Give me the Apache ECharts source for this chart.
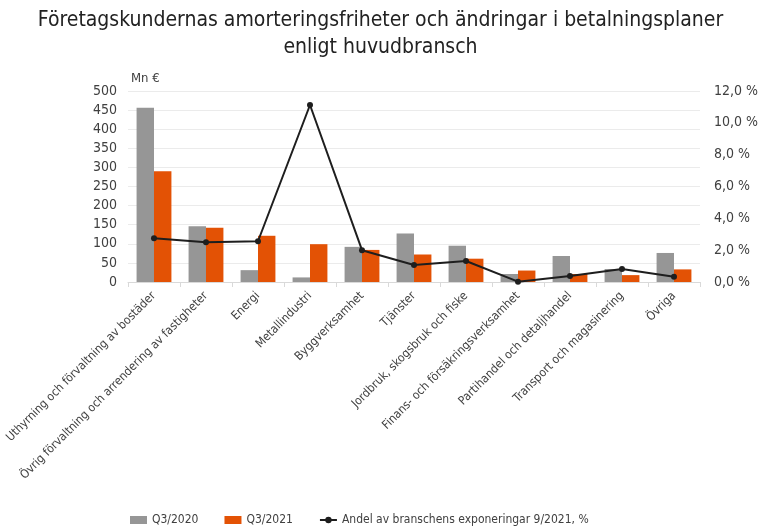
<!DOCTYPE html>
<html>
<head>
<meta charset="utf-8">
<script src="https://cdn.jsdelivr.net/npm/echarts@6/dist/echarts.min.js"></script>
<style>
  html, body { margin: 0; padding: 0; background: #fff; }
  #myChart { width: 761px; height: 529px; }
</style>
</head>
<body>
<div id="myChart"></div>
<script>
// kategorier och värden
const categories = [
  "Uthyrning och förvaltning av bostäder",
  "Övrig förvaltning och arrendering av fastigheter",
  "Energi",
  "Metallindustri",
  "Byggverksamhet",
  "Tjänster",
  "Jordbruk, skogsbruk och fiske",
  "Finans- och försäkringsverksamhet",
  "Partihandel och detaljhandel",
  "Transport och magasinering",
  "Övriga"
];
const q3_2020 = [456, 146, 31, 12, 92, 127, 95, 21, 68, 34, 76];
const q3_2021 = [290, 142, 121, 99, 84, 72, 61, 30, 21, 18, 33];
const andel = [2.75, 2.5, 2.56, 11.12, 2.0, 1.07, 1.32, 0.02, 0.38, 0.82, 0.33];

const font = "'Liberation Sans Narrow', 'DejaVu Sans Condensed', sans-serif";
const textColor = "#404040";

let myChart = echarts.init(document.getElementById("myChart"));
myChart.setOption({
  animation: false,
  textStyle: { fontFamily: font },
  title: {
    text: "Företagskundernas amorteringsfriheter och ändringar i betalningsplaner\nenligt huvudbransch",
    left: "center",
    top: 2,
    textStyle: {
      fontFamily: font,
      fontWeight: "normal",
      fontSize: 21,
      lineHeight: 27,
      color: "#222"
    }
  },
  legend: {
    bottom: -2,
    left: 125,
    itemGap: 26,
    itemWidth: 17,
    itemHeight: 8,
    textStyle: { fontFamily: font, fontSize: 12, color: textColor },
    data: [
      { name: "Q3/2020", icon: "rect" },
      { name: "Q3/2021", icon: "rect" },
      { name: "Andel av branschens exponeringar 9/2021, %" }
    ]
  },
  grid: { left: 128, right: 56, top: 91, bottom: 247 },
  xAxis: {
    type: "category",
    data: categories,
    axisLine: { lineStyle: { color: "#d9d9d9" } },
    axisTick: { show: true, length: 5, lineStyle: { color: "#d9d9d9" } },
    axisLabel: {
      rotate: 45,
      interval: 0,
      fontSize: 12,
      color: textColor,
      margin: 12
    }
  },
  yAxis: [
    {
      type: "value",
      min: 0,
      max: 500,
      interval: 50,
      name: "Mn €",
      nameLocation: "end",
      nameGap: 6,
      nameTextStyle: { fontSize: 13, color: textColor, align: "left", padding: [0, 0, 0, 3] },
      axisLine: { show: false },
      axisTick: { show: false },
      splitLine: { lineStyle: { color: "#ebebeb" } },
      axisLabel: { fontSize: 14, color: textColor, margin: 11 }
    },
    {
      type: "value",
      min: 0,
      max: 12,
      interval: 2,
      position: "right",
      axisLine: { show: false },
      axisTick: { show: false },
      splitLine: { show: false },
      axisLabel: {
        fontSize: 14,
        color: textColor,
        margin: 14,
        formatter: function (v) {
          return v.toFixed(1).replace(".", ",") + " %";
        }
      }
    }
  ],
  series: [
    {
      name: "Q3/2020",
      type: "bar",
      data: q3_2020,
      barGap: "0%",
      barCategoryGap: "33%",
      itemStyle: { color: "#969696" }
    },
    {
      name: "Q3/2021",
      type: "bar",
      data: q3_2021,
      itemStyle: { color: "#e35205" }
    },
    {
      name: "Andel av branschens exponeringar 9/2021, %",
      type: "line",
      yAxisIndex: 1,
      data: andel,
      symbol: "circle",
      symbolSize: 6,
      lineStyle: { color: "#1e1e1e", width: 2 },
      itemStyle: { color: "#1e1e1e" }
    }
  ]
});
</script>
</body>
</html>
